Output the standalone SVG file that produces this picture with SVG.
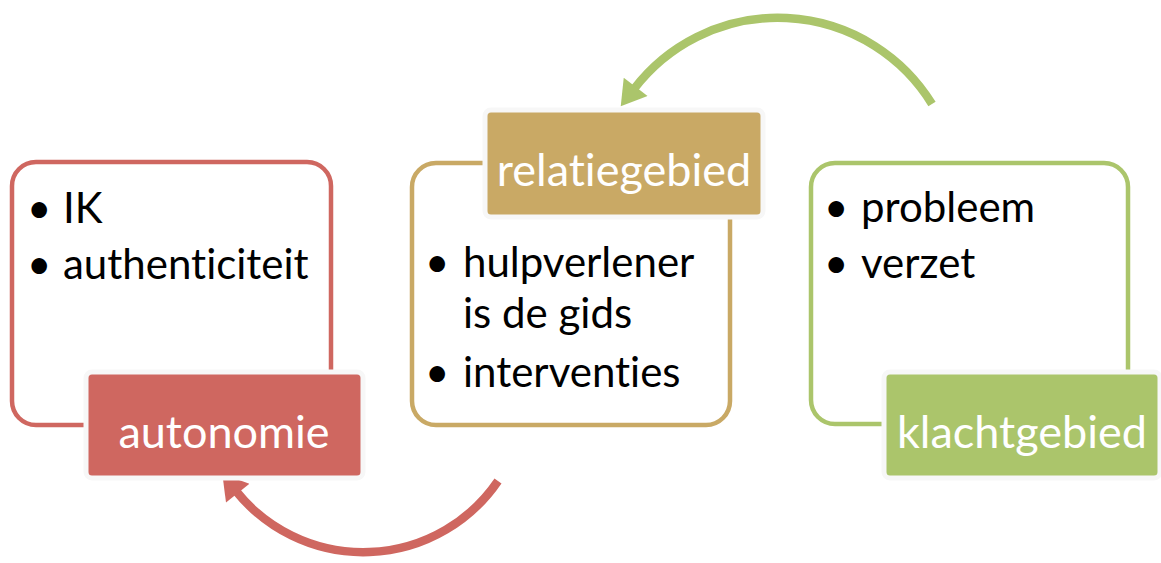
<svg xmlns="http://www.w3.org/2000/svg" width="1161" height="563" viewBox="0 0 1161 563">
<defs>
<style>
.frame{fill:#FFFFFF;stroke-width:4.5;}
.label{stroke:#F7F7F7;stroke-width:5;}
.lt{font-family:Lato,"Liberation Sans",sans-serif;font-size:45px;fill:#FFFFFF;text-anchor:middle;font-variant-ligatures:none;}
.bt{font-family:Lato,"Liberation Sans",sans-serif;font-size:42px;fill:#000000;font-variant-ligatures:none;}
.arc{fill:none;stroke-width:8.5;}
</style>
<marker id="hr" markerUnits="userSpaceOnUse" markerWidth="30" markerHeight="30" refX="2" refY="11" orient="auto" viewBox="0 0 20 22">
<path d="M0,0 L18,11 L0,22 Z" fill="#CF6760"/>
</marker>
<marker id="hg" markerUnits="userSpaceOnUse" markerWidth="30" markerHeight="30" refX="2" refY="11" orient="auto" viewBox="0 0 20 22">
<path d="M0,0 L18,11 L0,22 Z" fill="#ABC56B"/>
</marker>
</defs>
<rect width="1161" height="563" fill="#FFFFFF"/>

<g id="connectors">
<path class="arc" stroke="#CF6760" d="M498,481 A163,163 0 0 1 236,491" marker-end="url(#hr)"/>
<path class="arc" stroke="#ABC56B" d="M932,104 A181,181 0 0 0 634,89" marker-end="url(#hg)"/>
</g>

<g id="autonomie">
<rect class="frame" x="12" y="162" width="319" height="263" rx="24" stroke="#CF6760"/>
<text class="bt" x="27" y="223">•</text>
<text class="bt" x="63" y="223">IK</text>
<text class="bt" x="27" y="279">•</text>
<text class="bt" x="63" y="279">authenticiteit</text>
<rect class="label" x="86" y="372" width="277" height="106" rx="6" fill="#CF6760"/>
<text class="lt" x="224" y="448">autonomie</text>
</g>

<g id="relatiegebied">
<rect class="frame" x="412" y="163" width="318" height="262" rx="24" stroke="#C9A965"/>
<text class="bt" x="425" y="277">•</text>
<text class="bt" x="463" y="277">hulpverlener</text>
<text class="bt" x="463" y="328">is de gids</text>
<text class="bt" x="425" y="387">•</text>
<text class="bt" x="463" y="387">interventies</text>
<rect class="label" x="485" y="110" width="278" height="107" rx="6" fill="#C9A965"/>
<text class="lt" x="624" y="186">relatiegebied</text>
</g>

<g id="klachtgebied">
<rect class="frame" x="811" y="163" width="317" height="261" rx="24" stroke="#ABC56B"/>
<text class="bt" x="824" y="222">•</text>
<text class="bt" x="861" y="222">probleem</text>
<text class="bt" x="824" y="278">•</text>
<text class="bt" x="861" y="278">verzet</text>
<rect class="label" x="884" y="372" width="276" height="106" rx="6" fill="#ABC56B"/>
<text class="lt" x="1022" y="448">klachtgebied</text>
</g>
</svg>
